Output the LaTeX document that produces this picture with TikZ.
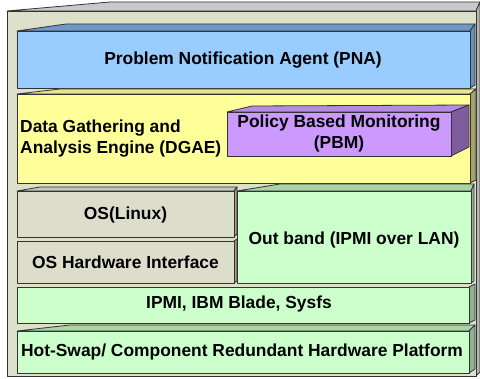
\documentclass[tikz,border=0pt]{standalone}
\usepackage{fontspec}
\setmainfont{Liberation Sans}
\definecolor{outerfront}{HTML}{DDE0CB}
\definecolor{outertop}{HTML}{C9C9C9}
\definecolor{outerside}{HTML}{B5B5B5}
\definecolor{pnafront}{HTML}{99CCFF}
\definecolor{pnatop}{HTML}{6E98C6}
\definecolor{pnaside}{HTML}{6A8FBA}
\definecolor{dgaefront}{HTML}{FFFF99}
\definecolor{dgaetop}{HTML}{E6E68C}
\definecolor{dgaeside}{HTML}{A3A36A}
\definecolor{pbmfront}{HTML}{CC99FF}
\definecolor{pbmtop}{HTML}{B68BE6}
\definecolor{pbmside}{HTML}{7F5C9E}
\definecolor{osfront}{HTML}{DDDDCC}
\definecolor{ostop}{HTML}{C6C6B8}
\definecolor{osside}{HTML}{9E9E90}
\definecolor{grfront}{HTML}{CCFFCC}
\definecolor{grtop}{HTML}{A8D4A8}
\definecolor{grside}{HTML}{8FB38F}
\begin{document}
\begin{tikzpicture}[x=1pt,y=-1pt,
  face/.style={draw=black!80, line width=0.8pt, line join=round},
  lbl/.style={font=\fontsize{17.4}{20.5}\selectfont\bfseries, inner sep=0pt, text=black}]
\useasboundingbox (0,0) rectangle (480,379);

% outer housing
\draw[face, fill=outertop]   (7,11) -- (110,2) -- (480,2) -- (476,11) -- cycle;
\draw[face, fill=outerside]  (476,11) -- (480,2) -- (480,372) -- (476,376) -- cycle;
\draw[face, fill=outerfront] (7,11) rectangle (476,376);

% Problem Notification Agent layer
\draw[face, fill=pnatop]   (17,31) -- (66,24) -- (475,24) -- (470,31) -- cycle;
\draw[face, fill=pnaside]  (470,31) -- (475,24) -- (475,85) -- (470,88) -- cycle;
\draw[face, fill=pnafront] (17,31) rectangle (470,88);

% Data Gathering and Analysis Engine layer
\draw[face, fill=dgaetop]   (17,94) -- (60,89) -- (476,89) -- (470,94) -- cycle;
\draw[face, fill=dgaeside]  (470,94) -- (476,89) -- (476,180) -- (470,183) -- cycle;
\draw[face, fill=dgaefront] (17,94) rectangle (470,183);

% Policy Based Monitoring block
\draw[face, fill=pbmtop]   (227,112) -- (252,106) -- (469,105) -- (451,112) -- cycle;
\draw[face, fill=pbmside]  (451,112) -- (469,105) -- (469,147) -- (451,156) -- cycle;
\draw[face, fill=pbmfront] (227,112) rectangle (451,156);

% OS blocks
\draw[face, fill=ostop]   (17,191) -- (40,187) -- (237,187) -- (234,191) -- cycle;
\draw[face, fill=osside]  (234,191) -- (237,187) -- (237,234) -- (234,237) -- cycle;
\draw[face, fill=osfront] (17,191) rectangle (234,237);
\draw[face, fill=osside]  (234,241) -- (237,239) -- (237,281) -- (234,283) -- cycle;
\draw[face, fill=osfront] (17,241) rectangle (234,283);

% Out band block
\draw[face, fill=grtop]   (237,191) -- (280,184) -- (474,184) -- (471,191) -- cycle;
\draw[face, fill=grside]  (471,191) -- (474,184) -- (474,281) -- (471,283) -- cycle;
\draw[face, fill=grfront] (237,191) rectangle (471,283);

% IPMI layer
\draw[face, fill=grside]  (469,287) -- (475,284) -- (475,320) -- (469,323) -- cycle;
\draw[face, fill=grfront] (17,287) rectangle (469,323);

% Hardware platform layer
\draw[face, fill=grtop]   (17,331) -- (70,325) -- (475,325) -- (469,331) -- cycle;
\draw[face, fill=grside]  (469,331) -- (475,325) -- (475,369) -- (469,373) -- cycle;
\draw[face, fill=grfront] (17,331) rectangle (469,373);

% labels
\node[lbl, anchor=base] (pna) at (243,65) {Problem Notification Agent (PNA)};
\node[lbl, anchor=west, align=left] (dgae) at (20,138.5) {Data Gathering and\\Analysis Engine (DGAE)};
\node[lbl, align=center] (pbm) at (339,133.5) {Policy Based Monitoring\\(PBM)};
\node[lbl, anchor=base] (oslinux) at (125.5,220) {OS(Linux)};
\node[lbl, anchor=base] (oshw) at (125.5,268.5) {OS Hardware Interface};
\node[lbl, anchor=base] (outband) at (354,244.5) {Out band (IPMI over LAN)};
\node[lbl, anchor=base] (ipmi) at (239,308.5) {IPMI, IBM Blade, Sysfs};
\node[lbl, anchor=base] (hotswap) at (242,357) {Hot-Swap/ Component Redundant Hardware Platform};
\end{tikzpicture}
\end{document}
